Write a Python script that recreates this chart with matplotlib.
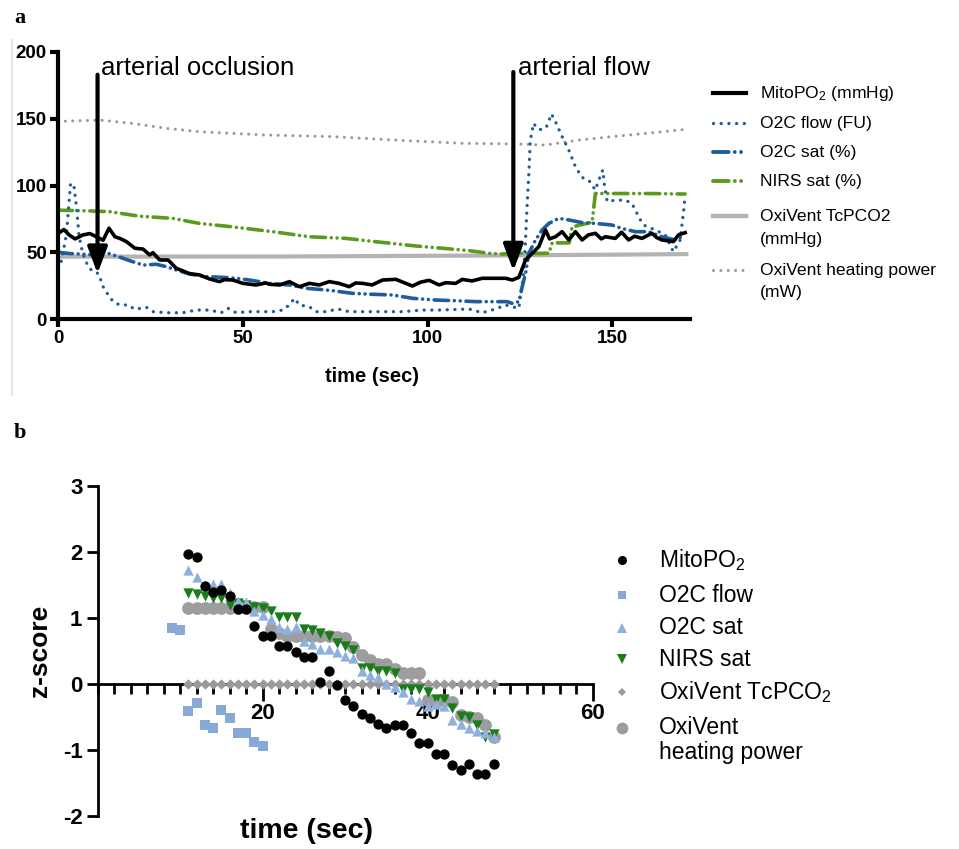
import matplotlib
matplotlib.use('Agg')
import matplotlib.pyplot as plt
from matplotlib.ticker import MultipleLocator, FixedLocator

plt.rcParams['font.family'] = ['Liberation Sans', 'DejaVu Sans']
plt.rcParams['mathtext.fontset'] = 'custom'
plt.rcParams['mathtext.rm'] = 'Liberation Sans'
plt.rcParams['mathtext.it'] = 'Liberation Sans:italic'
plt.rcParams['mathtext.bf'] = 'Liberation Sans:bold'
plt.rcParams['axes.unicode_minus'] = False

# ---- panel a: raw signals ----
mito_t = [0, 1.6, 3, 4.6, 6.8, 8.6, 10.4, 12.2, 13.8, 15.4, 16.7, 18.5, 20.8, 23, 24.8, 25.7, 27.5, 29.8, 32, 35.6,
          38.3, 41, 43.7, 45, 47.3, 50, 53.6, 56.3, 57.2, 60, 62.6, 65.3, 68, 70.7, 73.4, 76, 78.8, 80.5, 82.4, 85,
          87.8, 91.4, 94.1, 95.9, 98, 100.4, 103.1, 104.9, 107.6, 109.4, 112, 114.8, 118.4, 121.1, 122.9, 124.7,
          126.5, 128.3, 130.1, 131.9, 133, 134.6, 136.4, 138.2, 140, 141.8, 143.5, 145.4, 147, 148.1, 150.8, 152.5,
          154.4, 156, 158, 160.7, 162, 163.4, 166.5, 167.9, 169.7]
mito_v = [64, 67, 63, 60, 63, 64, 61.6, 59, 68, 61.6, 60.4, 58, 53, 52.4, 48, 49.7, 44.2, 44.2, 38, 34,
          33, 30, 28, 29.5, 29.2, 26.7, 25.5, 27, 26, 25.5, 28, 24.2, 26.7, 25.5, 28, 26.7, 24.2, 27, 26.7, 25.5,
          29.2, 29.7, 26.7, 24.7, 27.5, 29, 25.5, 27.2, 26.7, 29.7, 28.5, 30.5, 30.5, 30.5, 29.2, 31.2,
          44.2, 49.2, 54.2, 66.7, 60, 61.6, 65.4, 59.2, 65.4, 59.2, 63, 64.2, 60, 61.6, 60.4, 65,
          59.2, 62, 60.4, 64.2, 61, 59.2, 58, 63, 64.7]

flow_t = [0, 1, 2.3, 3.4, 4.3, 5, 5.7, 6.7, 8.2, 9.5, 11, 12.2, 13.6, 14.9, 16.7, 19, 20.8, 23.9, 25.7, 29.3,
          33.8, 37.4, 41, 44.2, 46, 48.2, 51.8, 55, 58.1, 60.8, 62.6, 64, 65.3, 68, 69.8, 72.5, 75.7, 78.8, 83.3, 87.8,
          93.2, 98.6, 103.1, 108.5, 111.2, 114.8, 118.4, 121.1, 122.9, 124.7, 125.1, 126, 126.5, 126.9, 127.4,
          127.8, 128.7, 129.6, 131, 132.3, 133.5, 134.6, 136.4, 138.2, 140, 141.8, 143.6, 145.4, 146.3, 147.4,
          147.9, 148.6, 150.8, 153.5, 155.3, 157.1, 158.4, 161.6, 164.3, 166.5, 168.3, 169.2, 169.7]
flow_v = [38, 44, 64, 101.6, 100, 84, 62, 49, 39, 35.4, 34, 24.2, 18, 13, 10.5, 10.5, 7.2, 8.8, 5.5, 4.7,
          4.7, 6.7, 6.7, 4.7, 8, 4.7, 5.5, 5.5, 5.5, 6.7, 10.5, 15.5, 10.5, 9.2, 5.5, 5.5, 7.5, 5.5, 5.5, 5.5,
          5.5, 6.7, 6.7, 7.2, 7.5, 4.7, 7.5, 10.5, 9.2, 8, 16.7, 34, 59, 84, 109,
          134, 146.6, 142.8, 141.6, 144.6, 153.6, 147.8, 136.6, 126.6, 114, 106, 104, 96.6, 104, 111.6,
          99, 88, 89, 89, 86.6, 76.6, 70.4, 66.7, 63, 50.4, 59, 79, 93]

o2csat_t = [0, 3.2, 7, 10, 12.2, 15.8, 19.4, 23, 26.6, 29.3, 32, 35.6, 40.1, 44.6, 48.2, 51.8, 57.2, 62.6, 67.1,
            70.7, 74.3, 79.7, 85.1, 90.5, 95.9, 102.2, 107.6, 113, 118.4, 121.5, 122.9, 124.7, 125.6, 126.5, 127.4,
            129.2, 131, 132.8, 135.5, 138.2, 141.8, 145.4, 149.9, 152.6, 156.2, 159.8, 163.4, 167, 168.8]
o2csat_v = [50, 49, 48.5, 48, 50.4, 47.2, 43.7, 40.4, 41, 39.2, 36.7, 33.7, 31.7, 31.2, 30.5, 29.2, 26.7, 25.5, 23,
            22.2, 21.2, 19.2, 18.5, 18, 15.5, 14.2, 13.7, 13, 13, 13, 11.7, 13, 24.2, 34, 49.2,
            59.2, 66.7, 71.6, 75.4, 74.2, 72.2, 71.6, 70.4, 67.8, 65.4, 65.4, 61.6, 59.2, 61.6]

nirs_t = [0, 8, 14, 22, 31, 38.3, 47.3, 58.1, 68, 77.9, 86, 96.8, 104, 111.2, 116.6, 120.2, 124.7, 132.8, 133.7,
          138.3, 139.1, 144.5, 145.4, 150, 160, 169.7]
nirs_v = [81.5, 81, 80.4, 77, 75.4, 71.6, 69, 65.4, 61.6, 60.4, 57.9, 54.7, 53, 51.2, 49.2, 48.7, 49.2, 49.2, 57,
          57, 69, 72.5, 94, 94, 94, 93.6]

tcpco2_t = [0, 60, 120, 170]
tcpco2_v = [46.7, 46.8, 47.6, 48.6]

heat_t = [0, 11.3, 20.3, 29.3, 38.3, 47.3, 56.3, 74.3, 91.4, 109.4, 123.8, 131.9, 140.9, 149.9, 158.9, 169.7]
heat_v = [148, 149, 146.5, 142.8, 140.3, 139, 137.8, 136.6, 134, 131.6, 131.1, 130.3, 134, 136.6, 139, 142]

# ---- panel b: z-scores ----
zt = list(range(11, 49))
z_mito = [1.97, 1.92, 1.49, 1.40, 1.43, 1.34, 1.13, 1.13, 0.88, 0.72, 0.72, 0.58, 0.57, 0.48, 0.41, 0.41, 0.03,
          0.19, -0.02, -0.24, -0.33, -0.46, -0.51, -0.60, -0.67, -0.62, -0.62, -0.74, -0.89, -0.89, -1.06, -1.06,
          -1.23, -1.30, -1.21, -1.36, -1.36, -1.21]
zt_flow = list(range(9, 21))
z_flow = [0.85, 0.82, -0.41, -0.29, -0.62, -0.67, -0.39, -0.51, -0.74, -0.74, -0.88, -0.94]
z_o2csat = [1.73, 1.62, 1.50, 1.52, 1.52, 1.38, 1.26, 1.24, 1.10, 1.05, 0.98, 0.86, 0.83, 0.86, 0.65, 0.61, 0.53,
            0.53, 0.49, 0.43, 0.39, 0.20, 0.13, 0.10, 0.0, -0.05, -0.12, -0.22, -0.25, -0.34, -0.30, -0.34, -0.54,
            -0.60, -0.67, -0.71, -0.74, -0.81]
z_nirs = [1.38, 1.36, 1.33, 1.30, 1.30, 1.20, 1.22, 1.20, 1.17, 1.15, 1.10, 1.01, 1.01, 1.01, 0.83, 0.82, 0.77,
          0.72, 0.62, 0.58, 0.52, 0.24, 0.24, 0.19, 0.19, 0.17, -0.07, -0.08, -0.08, -0.12, -0.22, -0.23, -0.37,
          -0.49, -0.50, -0.62, -0.80, -0.75]
z_tcpco2 = [0.0] * 38
z_heat = [1.15, 1.15, 1.15, 1.15, 1.15, 1.15, 1.15, 1.15, 1.17, 1.17, 0.84, 0.78, 0.72, 0.72, 0.72, 0.72, 0.72,
          0.72, 0.71, 0.70, 0.56, 0.44, 0.37, 0.31, 0.31, 0.22, 0.17, 0.16, 0.16, -0.24, -0.28, -0.24, -0.28,
          -0.47, -0.50, -0.52, -0.62, -0.80]

blue = '#1f5c9c'
green = '#5b9b1c'
dotted = (0, (0.01, 2.3))
dashdotdot = (0, (4, 1.6, 0.01, 1.6, 0.01, 1.6))

fig = plt.figure(figsize=(9.59, 8.49), dpi=100)

# overlay in pixel coordinates for legends and loose text
ov = fig.add_axes([0, 0, 1, 1], zorder=10)
ov.set_xlim(0, 959)
ov.set_ylim(849, 0)
ov.axis('off')

# =========== panel a ===========
ax = fig.add_axes([58 / 959, 1 - 319 / 849, 632 / 959, 267 / 849])
ax.plot(heat_t, heat_v, color='#9a9a9a', lw=2.2, linestyle=(0, (0.01, 2.4)), dash_capstyle='round')
ax.plot(tcpco2_t, tcpco2_v, color='#b3b3b3', lw=3)
ax.plot(nirs_t, nirs_v, color=green, lw=2.6, linestyle=dashdotdot, dash_capstyle='round')
ax.plot(o2csat_t, o2csat_v, color=blue, lw=2.6, linestyle=dashdotdot, dash_capstyle='round')
ax.plot(flow_t, flow_v, color=blue, lw=2.4, linestyle=dotted, dash_capstyle='round')
ax.plot(mito_t, mito_v, color='black', lw=2.6)

ax.set_xlim(0, 171)
ax.set_ylim(0, 200)
ax.set_xticks([0, 50, 100, 150])
ax.set_yticks([0, 50, 100, 150, 200])
for s in ['top', 'right']:
    ax.spines[s].set_visible(False)
for s in ['left', 'bottom']:
    ax.spines[s].set_linewidth(3)
ax.tick_params(width=3, length=6, labelsize=13.5, pad=2)
for lab in ax.get_xticklabels() + ax.get_yticklabels():
    lab.set_fontweight('bold')

arrow_style = dict(arrowstyle='-|>,head_length=0.8,head_width=0.3', color='black', lw=3,
                   mutation_scale=20, shrinkA=0, shrinkB=0)
ax.annotate('', xy=(10.7, 34), xytext=(10.7, 183), arrowprops=arrow_style)
ax.annotate('', xy=(123.2, 36), xytext=(123.2, 185), arrowprops=arrow_style)
ax.text(11.7, 188, 'arterial occlusion', fontsize=18.5, va='center', ha='left')
ax.text(124.5, 188, 'arterial flow', fontsize=18.5, va='center', ha='left')

# legend a (drawn by hand to match spacing)
leg_a = [
    ('MitoPO$_2$ (mmHg)', None, dict(color='black', lw=3)),
    ('O2C flow (FU)', None, dict(color=blue, lw=2.4, linestyle=dotted, dash_capstyle='round')),
    ('O2C sat (%)', None, dict(color=blue, lw=2.8, linestyle=dashdotdot, dash_capstyle='round')),
    ('NIRS sat (%)', None, dict(color=green, lw=2.8, linestyle=dashdotdot, dash_capstyle='round')),
    ('OxiVent TcPCO2', '(mmHg)', dict(color='#b3b3b3', lw=3.2)),
    ('OxiVent heating power', '(mW)', dict(color='#9a9a9a', lw=2.2, linestyle=(0, (0.01, 2.4)),
                                           dash_capstyle='round')),
]
rows_a = [93, 123, 152, 181, 216, 270]
for (l1, l2, st), y in zip(leg_a, rows_a):
    ov.plot([713, 746], [y, y], **st)
    ov.text(760, y, l1, fontsize=12.6, va='center', ha='left')
    if l2:
        ov.text(760, y + 23, l2, fontsize=12.6, va='center', ha='left')

ov.text(372, 376, 'time (sec)', fontsize=14.5, fontweight='bold', ha='center', va='center')
ov.text(14, 18, 'a', fontsize=16, fontweight='bold', family='Liberation Serif', ha='left', va='center')
ov.plot([12, 12], [40, 395], color='#e6e6e6', lw=1.5)

# =========== panel b ===========
bx = fig.add_axes([97.7 / 959, 1 - 816 / 849, 495 / 959, 330 / 849])
bx.scatter(zt, z_heat, s=85, color='#9d9d9f', marker='o', linewidths=0, zorder=2)
bx.scatter(zt, z_tcpco2, s=28, color='#999999', marker='D', linewidths=0, zorder=3)
bx.scatter(zt, z_nirs, s=55, color='#1a7d1a', marker='v', linewidths=0, zorder=4)
bx.scatter(zt, z_o2csat, s=55, color='#8eb0dc', marker='^', linewidths=0, zorder=5)
bx.scatter(zt_flow, z_flow, s=55, color='#86a9d8', marker='s', linewidths=0, zorder=5)
bx.scatter(zt, z_mito, s=55, color='black', marker='o', linewidths=0, zorder=6)

bx.set_xlim(0, 60)
bx.set_ylim(-2, 3)
bx.spines['bottom'].set_position(('data', 0))
for s in ['top', 'right']:
    bx.spines[s].set_visible(False)
for s in ['left', 'bottom']:
    bx.spines[s].set_linewidth(2)
bx.xaxis.set_major_locator(FixedLocator([20, 40, 60]))
bx.xaxis.set_minor_locator(MultipleLocator(2))
bx.set_yticks([-2, -1, 0, 1, 2, 3])
bx.tick_params(axis='x', which='major', direction='out', length=12, width=2, labelsize=16, pad=2)
bx.tick_params(axis='x', which='minor', direction='out', length=7, width=2)
bx.tick_params(axis='y', which='major', direction='out', length=8, width=2, labelsize=16, pad=3)
for lab in bx.get_xticklabels() + bx.get_yticklabels():
    lab.set_fontweight('bold')

ov.text(40, 651, 'z-score', fontsize=19, fontweight='bold', rotation=90, ha='center', va='center')
ov.text(307, 831, 'time (sec)', fontsize=20.5, fontweight='bold', ha='center', va='center')
ov.text(14, 433, 'b', fontsize=16, fontweight='bold', family='Liberation Serif', ha='left', va='center')

# legend b
leg_b = [
    ('MitoPO$_2$', None, dict(marker='o', color='black', markersize=6.5)),
    ('O2C flow', None, dict(marker='s', color='#86a9d8', markersize=6)),
    ('O2C sat', None, dict(marker='^', color='#8eb0dc', markersize=6.5)),
    ('NIRS sat', None, dict(marker='v', color='#1a7d1a', markersize=6.5)),
    ('OxiVent TcPCO$_2$', None, dict(marker='D', color='#999999', markersize=4.5)),
    ('OxiVent', 'heating power', dict(marker='o', color='#9d9d9f', markersize=8.5)),
]
rows_b = [560, 595, 628, 659, 692, 728]
for (l1, l2, st), y in zip(leg_b, rows_b):
    ov.plot([622], [y], linestyle='none', markeredgewidth=0, **st)
    ov.text(659, y, l1, fontsize=16.5, va='center', ha='left')
    if l2:
        ov.text(659, y + 25, l2, fontsize=16.5, va='center', ha='left')

fig.savefig('out.png', dpi=100)
